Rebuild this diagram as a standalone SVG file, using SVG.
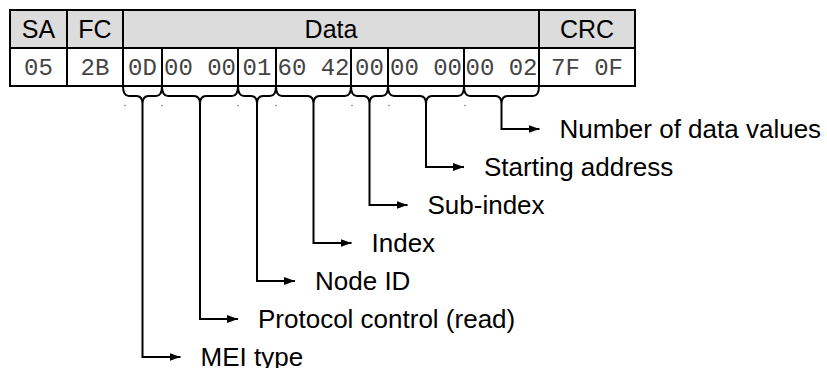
<svg xmlns="http://www.w3.org/2000/svg" width="827" height="368" viewBox="0 0 827 368">
<style>
.hdr{fill:#dcdcdc;stroke:none}
.cell{fill:#ffffff;stroke:none}
.grid{fill:none;stroke:#000;stroke-width:2}
.ht{font-family:"Liberation Sans",Arial,sans-serif;font-size:25px;fill:#000;text-anchor:middle}
.mono{font-family:"Liberation Mono","Courier New",monospace;font-size:24px;fill:#444;text-anchor:middle}
.lbl{font-family:"Liberation Sans",Arial,sans-serif;font-size:26px;fill:#000}
.brace{fill:none;stroke:#000;stroke-width:2}
.conn{fill:none;stroke:#000;stroke-width:2;marker-end:url(#arr)}
.dot{fill:#777}
</style>
<defs>
<marker id="arr" markerUnits="userSpaceOnUse" markerWidth="12" markerHeight="10" refX="11" refY="4" orient="auto">
<path d="M0,0 L11,4 L0,8 Z" fill="#000"/>
</marker>
</defs>
<g id="table">
<rect class="hdr" x="10" y="10" width="625" height="38"/>
<rect class="cell" x="10" y="48" width="625" height="38"/>
<rect class="grid" x="10" y="10" width="625" height="76"/>
<line class="grid" x1="10" y1="48" x2="635" y2="48"/>
<line class="grid" x1="67" y1="10" x2="67" y2="86"/>
<line class="grid" x1="123" y1="10" x2="123" y2="86"/>
<line class="grid" x1="539" y1="10" x2="539" y2="86"/>
<line class="grid" x1="162" y1="48" x2="162" y2="86"/>
<line class="grid" x1="238" y1="48" x2="238" y2="86"/>
<line class="grid" x1="276" y1="48" x2="276" y2="86"/>
<line class="grid" x1="351" y1="48" x2="351" y2="86"/>
<line class="grid" x1="388" y1="48" x2="388" y2="86"/>
<line class="grid" x1="464" y1="48" x2="464" y2="86"/>
</g>
<g id="header-labels">
<text class="ht" x="38.5" y="38">SA</text>
<text class="ht" x="95" y="38">FC</text>
<text class="ht" x="331" y="38">Data</text>
<text class="ht" x="587" y="38">CRC</text>
</g>
<g id="bytes">
<text class="mono" x="38.5" y="75">05</text>
<text class="mono" x="95" y="75">2B</text>
<text class="mono" x="142.5" y="75">0D</text>
<text class="mono" x="200" y="75">00 00</text>
<text class="mono" x="257" y="75">01</text>
<text class="mono" x="313.5" y="75">60 42</text>
<text class="mono" x="369.5" y="75">00</text>
<text class="mono" x="426" y="75">00 00</text>
<text class="mono" x="501.5" y="75">00 02</text>
<text class="mono" x="587" y="75">7F 0F</text>
</g>
<g id="braces">
<path class="brace" d="M123,86 q0,10 6,10 H136.5 q6,0 6,8 q0,-8 6,-8 H156 q6,0 6,-10"/>
<path class="brace" d="M162,86 q0,10 6,10 H194 q6,0 6,8 q0,-8 6,-8 H232 q6,0 6,-10"/>
<path class="brace" d="M238,86 q0,10 6,10 H251 q6,0 6,8 q0,-8 6,-8 H270 q6,0 6,-10"/>
<path class="brace" d="M276,86 q0,10 6,10 H307.5 q6,0 6,8 q0,-8 6,-8 H345 q6,0 6,-10"/>
<path class="brace" d="M351,86 q0,10 6,10 H363.5 q6,0 6,8 q0,-8 6,-8 H382 q6,0 6,-10"/>
<path class="brace" d="M388,86 q0,10 6,10 H420 q6,0 6,8 q0,-8 6,-8 H458 q6,0 6,-10"/>
<path class="brace" d="M464,86 q0,10 6,10 H495.5 q6,0 6,8 q0,-8 6,-8 H533 q6,0 6,-10"/>
</g>
<g id="dots">
<circle class="dot" cx="125" cy="105.5" r="0.8"/>
<circle class="dot" cx="162" cy="105.5" r="0.8"/>
<circle class="dot" cx="238" cy="105.5" r="0.8"/>
<circle class="dot" cx="276" cy="105.5" r="0.8"/>
<circle class="dot" cx="352" cy="105.5" r="0.8"/>
<circle class="dot" cx="389" cy="105.5" r="0.8"/>
<circle class="dot" cx="465" cy="105.5" r="0.8"/>
</g>
<g id="connectors">
<path class="conn" d="M142.5,104 V357 H180.5"/>
<path class="conn" d="M200,104 V319 H238"/>
<path class="conn" d="M257,104 V281 H295"/>
<path class="conn" d="M313.5,104 V243 H351.5"/>
<path class="conn" d="M369.5,104 V205 H407.5"/>
<path class="conn" d="M426,104 V167 H464"/>
<path class="conn" d="M501.5,104 V129 H539.5"/>
</g>
<g id="label-mei"><text class="lbl" x="200.5" y="366">MEI type</text></g>
<g id="label-protocol"><text class="lbl" x="258" y="328">Protocol control (read)</text></g>
<g id="label-node"><text class="lbl" x="315" y="290">Node ID</text></g>
<g id="label-index"><text class="lbl" x="371.5" y="252">Index</text></g>
<g id="label-subindex"><text class="lbl" x="427.5" y="214">Sub-index</text></g>
<g id="label-start"><text class="lbl" x="484" y="176">Starting address</text></g>
<g id="label-number"><text class="lbl" x="559.5" y="138">Number of data values</text></g>
</svg>
